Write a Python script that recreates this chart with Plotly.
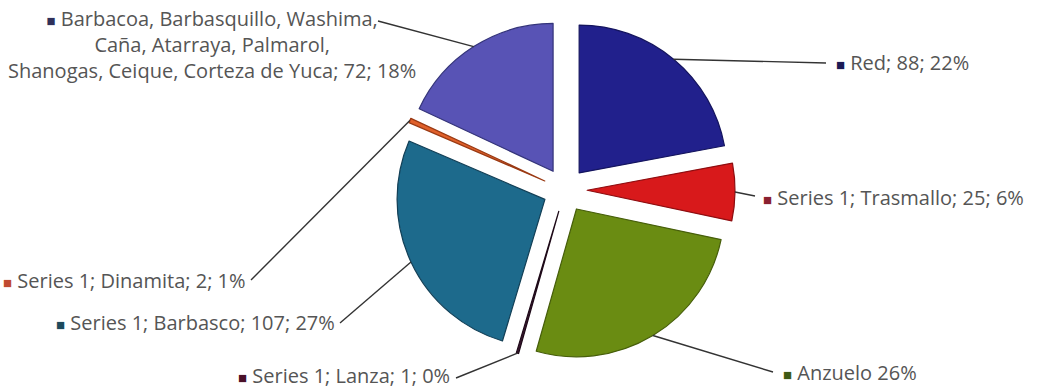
import math
import plotly.graph_objects as go

W, H = 1037, 389

# ---- data -------------------------------------------------------------
categories = ["Red", "Trasmallo", "Anzuelo", "Lanza", "Barbasco", "Dinamita",
              "Barbacoa, Barbasquillo, Washima,<br>Caña, Atarraya, Palmarol,<br>"
              "Shanogas, Ceique, Corteza de Yuca"]
values = [88, 25, 104, 1, 107, 2, 72]
series_prefix = ["", "Series 1; ", "", "Series 1; ", "Series 1; ", "Series 1; ", ""]
show_value = [True, True, False, True, True, True, True]

# ---- styling ----------------------------------------------------------
slice_colors = ["#21208c", "#d8191b", "#6a8c12", "#3a1630", "#1d6a8c", "#e0602a", "#5853b5"]
edge_colors = ["#14145e", "#8e0d10", "#465e0a", "#1e0a18", "#123f56", "#9a3a14", "#34347a"]
key_colors = ["#1b1b55", "#8a2030", "#3f5a14", "#4a1028", "#1d4a5c", "#c04a30", "#30305a"]
PULL = 0.15
FONT = dict(family="Open Sans", size=20, color="#555555")

# pie geometry in pixels
CX, CY, BOX = 565, 190, 340
R = BOX / 2 / (1 + PULL)

# label placement (pixels): x, y, anchor, leader-line start
label_pos = [
    (834, 63, "left", (826, 63)),
    (761, 197, "left", (755, 196)),
    (781, 372, "left", (773, 372)),
    (452, 375, "right", (456, 378)),
    (337, 322, "right", (340, 323)),
    (248, 280, "right", (251, 280)),
    (212, 44, "center", (378, 21)),
]

total = sum(values)


def px(x):
    return x / W


def py(y):
    return 1 - y / H


fig = go.Figure(go.Pie(
    labels=categories,
    values=values,
    sort=False,
    direction="clockwise",
    rotation=0,
    pull=[PULL] * len(values),
    marker=dict(colors=slice_colors, line=dict(color=edge_colors, width=1.2)),
    textinfo="none",
    hoverinfo="skip",
    showlegend=False,
    domain=dict(x=[px(CX - BOX / 2), px(CX + BOX / 2)],
                y=[py(CY + BOX / 2), py(CY - BOX / 2)]),
))

annotations = []
shapes = []
cum = 0
for i, v in enumerate(values):
    mid = (cum + v / 2) / total * 2 * math.pi
    cum += v
    ax_ = CX + R * (1 + PULL) * math.sin(mid)
    ay_ = CY - R * (1 + PULL) * math.cos(mid)
    pct = round(100 * v / total)
    name = categories[i]
    if show_value[i]:
        body = f"{series_prefix[i]}{name}; {v}; {pct}%"
    else:
        body = f"{series_prefix[i]}{name} {pct}%"
    key = f"<span style='color:{key_colors[i]};font-size:15px'>■</span> "
    x, y, anchor, (lx, ly) = label_pos[i]
    annotations.append(dict(
        x=px(x), y=py(y), xref="paper", yref="paper",
        text=key + body, showarrow=False,
        xanchor=anchor, yanchor="middle", align="center",
        font=FONT,
    ))
    shapes.append(dict(
        type="line", xref="paper", yref="paper",
        x0=px(lx), y0=py(ly), x1=px(ax_), y1=py(ay_),
        line=dict(color="#333333", width=1.4),
    ))

fig.update_layout(
    width=W, height=H,
    margin=dict(l=0, r=0, t=0, b=0),
    paper_bgcolor="white",
    plot_bgcolor="white",
    annotations=annotations,
    shapes=shapes,
)

fig.write_html("out.html")
